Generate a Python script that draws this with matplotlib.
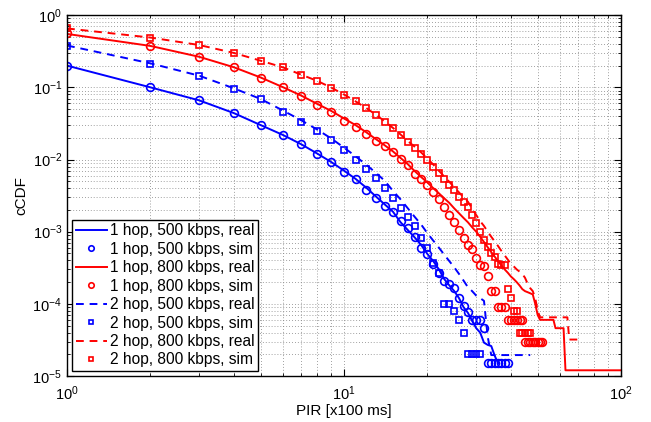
import matplotlib
matplotlib.use("Agg")
import matplotlib.pyplot as plt
import numpy as np

plt.rcParams["font.family"] = ["Liberation Sans", "DejaVu Sans"]
plt.rcParams["mathtext.default"] = "regular"

# 1 hop, 500 kbps
real_1h500_x = list(range(1, 37))
real_1h500 = [0.2, 0.1, 0.066, 0.044, 0.030, 0.022, 0.0163, 0.0121, 0.0092, 0.0070,
              0.0054, 0.0041, 0.0031, 0.0024, 0.0019, 0.00135, 0.00105, 0.00083, 0.00065, 0.00049,
              0.00039, 0.0003, 0.00022, 0.00018, 0.00015, 0.00012, 9e-5, 7.5e-5, 5.8e-5, 4.6e-5,
              4.0e-5, 2.9e-5, 2.7e-5, 2.6e-5, 1.9e-5, 1.5e-5]
sim_1h500 = [0.2, 0.1, 0.067, 0.044, 0.030, 0.022, 0.0164, 0.012, 0.0092, 0.0068,
             0.0053, 0.0038, 0.0029, 0.0023, 0.0019, 0.0014, 0.00112, 0.00085, 0.00059, 0.00049,
             0.00036, 0.00027, 0.00021, 0.00019, 0.000165, 0.00012, 9.3e-5, 7.6e-5, 6e-5, 6e-5,
             6e-5, 4.6e-5, 1.5e-5, 1.5e-5, 1.5e-5, 1.5e-5, 1.5e-5, 1.5e-5, 1.5e-5]

# 1 hop, 800 kbps
real_1h800_x = list(range(1, 51)) + [51, 57, 58, 62, 63, 100]
real_1h800 = [0.55, 0.375, 0.265, 0.19, 0.137, 0.101, 0.077, 0.059, 0.047, 0.037,
              0.030, 0.0240, 0.0193, 0.0158, 0.0130, 0.0105, 0.0086, 0.0069, 0.0057, 0.0048,
              0.0040, 0.0034, 0.0029, 0.0025, 0.0021, 0.0018, 0.00155, 0.00135, 0.00115, 0.001,
              0.00085, 0.00072, 0.00061, 0.00052, 0.00045, 0.00039, 0.00034, 0.0003, 0.00027, 0.00024,
              0.00022, 0.0002, 0.00018, 0.00016, 0.00015, 0.000145, 0.00014, 0.000135, 0.0001, 7e-5,
              6e-5, 6e-5, 4.6e-5, 4.6e-5, 1.2e-5, 1.2e-5]
sim_1h800 = [0.57, 0.377, 0.266, 0.19, 0.136, 0.1, 0.075, 0.057, 0.045, 0.0345,
             0.0282, 0.0226, 0.0183, 0.0153, 0.0126, 0.0103, 0.0084, 0.0064, 0.0053, 0.0045,
             0.0035, 0.0028, 0.0022, 0.0017, 0.00135, 0.00105, 0.00083, 0.00065, 0.00057, 0.00043,
             0.00035, 0.00033, 0.00024, 0.00015, 0.00015, 9e-5, 9e-5, 9e-5, 6e-5, 6e-5,
             6e-5, 6e-5, 6e-5, 6e-5, 3e-5, 3e-5, 3e-5, 3e-5, 3e-5, 3e-5,
             3e-5, 3e-5]

# 2 hop, 500 kbps
real_2h500_x = list(range(1, 34)) + [34, 47]
real_2h500 = [0.38, 0.215, 0.145, 0.097, 0.069, 0.048, 0.035, 0.026, 0.0195, 0.0146,
              0.0111, 0.0085, 0.0066, 0.0051, 0.0037, 0.0028, 0.0021, 0.0016, 0.00125, 0.00095,
              0.00075, 0.0006, 0.00048, 0.00039, 0.00032, 0.00026, 0.00021, 0.00017, 0.00015, 0.00013,
              0.00012, 0.00011, 3.5e-5, 1.95e-5, 1.95e-5]
sim_2h500 = [0.377, 0.213, 0.143, 0.095, 0.068, 0.046, 0.033, 0.0246, 0.0185, 0.0134,
             0.0098, 0.0075, 0.0056, 0.0040, 0.0029, 0.0021, 0.0016, 0.0012, 0.00083, 0.00059,
             0.00037, 0.00027, 0.0001, 0.0001, 8e-5, 6e-5, 4e-5, 2e-5, 2e-5, 2e-5,
             2e-5]

# 2 hop, 800 kbps
real_2h800_x = list(range(1, 52)) + [64, 65, 70]
real_2h800 = [0.655, 0.49, 0.386, 0.30, 0.234, 0.19, 0.15, 0.123, 0.099, 0.0795,
              0.064, 0.052, 0.042, 0.034, 0.0275, 0.0222, 0.018, 0.015, 0.0125, 0.0103,
              0.0085, 0.007, 0.0058, 0.0049, 0.0041, 0.0035, 0.003, 0.0026, 0.0021, 0.0017,
              0.0014, 0.0012, 0.001, 0.00085, 0.00073, 0.00063, 0.00054, 0.00047, 0.00041, 0.00036,
              0.00033, 0.0003, 0.00028, 0.00026, 0.00023, 0.00019, 0.000165, 0.00015, 0.00012, 8e-5,
              6.5e-5, 6.5e-5, 3.2e-5, 3.2e-5]
sim_2h800 = [0.655, 0.49, 0.386, 0.30, 0.234, 0.19, 0.15, 0.123, 0.099, 0.0788,
             0.0637, 0.0516, 0.0418, 0.0334, 0.027, 0.0216, 0.0175, 0.0146, 0.0121, 0.0098,
             0.0079, 0.0065, 0.0054, 0.0045, 0.0038, 0.0030, 0.0026, 0.0022, 0.0017, 0.0013,
             0.001, 0.00076, 0.00061, 0.00051, 0.00045, 0.00036, 0.00035, 0.00034, 0.00016, 0.00012,
             8e-5, 8e-5, 4e-5, 4e-5, 4e-5, 4e-5, 4e-5]

fig = plt.figure(figsize=(6.51, 4.22), dpi=100)
ax = fig.add_axes([0.103, 0.109, 0.851, 0.855])

lw = 1.4
ms_c = 5.6
ms_s = 4.8
mew = 1.2
dash = (4, 3)

def sim_x(vals):
    return np.arange(1, len(vals) + 1)

ax.plot(real_1h500_x, real_1h500, "-", color="b", lw=lw, label="1 hop, 500 kbps, real")
ax.plot(sim_x(sim_1h500), sim_1h500, "o", color="b", mfc="none", ms=ms_c, mew=mew,
        label="1 hop, 500 kbps, sim")
ax.plot(real_1h800_x, real_1h800, "-", color="r", lw=lw, label="1 hop, 800 kbps, real")
ax.plot(sim_x(sim_1h800), sim_1h800, "o", color="r", mfc="none", ms=ms_c, mew=mew,
        label="1 hop, 800 kbps, sim")
ax.plot(real_2h500_x, real_2h500, "--", dashes=dash, color="b", lw=lw, label="2 hop, 500 kbps, real")
ax.plot(sim_x(sim_2h500), sim_2h500, "s", color="b", mfc="none", ms=ms_s, mew=mew,
        label="2 hop, 500 kbps, sim")
ax.plot(real_2h800_x, real_2h800, "--", dashes=dash, color="r", lw=lw, label="2 hop, 800 kbps, real")
ax.plot(sim_x(sim_2h800), sim_2h800, "s", color="r", mfc="none", ms=ms_s, mew=mew,
        label="2 hop, 800 kbps, sim")

ax.set_xscale("log")
ax.set_yscale("log")
ax.set_xlim(1, 100)
ax.set_ylim(1e-5, 1)

ax.grid(True, which="both", linestyle=(0, (1, 2.5)), color="0.5", lw=0.6)
ax.tick_params(which="both", direction="in", top=True, right=True, labelsize=10.5)
ax.tick_params(which="major", length=5)
ax.tick_params(which="minor", length=2.5)
ax.tick_params(axis="x", which="major", pad=6)
for s in ax.spines.values():
    s.set_linewidth(1.0)

ax.set_xlabel("PIR [x100 ms]", fontsize=11, labelpad=1)
ax.set_ylabel("cCDF", fontsize=11, labelpad=3)

leg = ax.legend(loc="lower left", fontsize=11.2, fancybox=False, framealpha=1,
                edgecolor="black", borderaxespad=0.3, borderpad=0.25,
                labelspacing=0.22, handlelength=2.0, handletextpad=0.2,
                markerscale=0.7)
leg.get_frame().set_linewidth(1.0)

fig.savefig("out.png", dpi=100)
